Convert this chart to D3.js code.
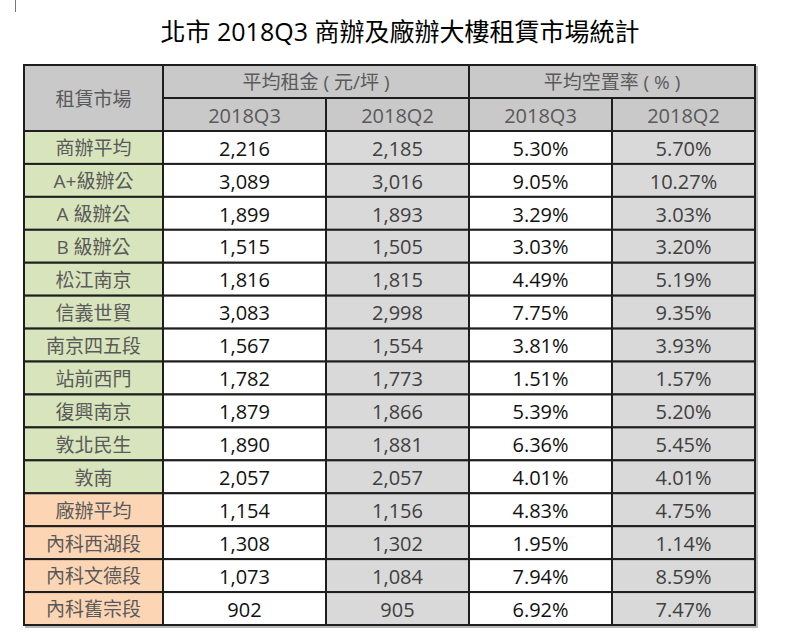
<!DOCTYPE html>
<html><head><meta charset="utf-8">
<script src="https://cdn.jsdelivr.net/npm/d3@7"></script>
<style>body{margin:0;background:#fff}svg{display:block}</style>
</head><body><svg id="c" width="800" height="642"></svg>
<script>
const title = "北市 2018Q3 商辦及廠辦大樓租賃市場統計";
const markets = ["商辦平均","A+級辦公","A 級辦公","B 級辦公","松江南京","信義世貿","南京四五段","站前西門","復興南京","敦北民生","敦南","廠辦平均","內科西湖段","內科文德段","內科舊宗段"];
const groups = ["office","office","office","office","office","office","office","office","office","office","office","factory","factory","factory","factory"];
const rentQ3 = [2216,3089,1899,1515,1816,3083,1567,1782,1879,1890,2057,1154,1308,1073,902];
const rentQ2 = [2185,3016,1893,1505,1815,2998,1554,1773,1866,1881,2057,1156,1302,1084,905];
const vacQ3 = [5.30,9.05,3.29,3.03,4.49,7.75,3.81,1.51,5.39,6.36,4.01,4.83,1.95,7.94,6.92];
const vacQ2 = [5.70,10.27,3.03,3.20,5.19,9.35,3.93,1.57,5.20,5.45,4.01,4.75,1.14,8.59,7.47];
const headerTop = ["租賃市場","平均租金 ( 元/坪 )","平均空置率 ( % )"];
const periods = ["2018Q3","2018Q2","2018Q3","2018Q2"];

const svg = d3.select("#c");
const font = "'Open Sans','Noto Sans CJK TC',sans-serif";
const colEdges = [24,163,326,469,612,755];
const x = i => colEdges[i];
const tableTop = 65, hdr1 = 98, hdr2 = 131, tableBottom = 625;
const y = d3.scaleBand().domain(markets).range([hdr2, tableBottom]);
const fillGroup = {office:"#d8e4bc", factory:"#fcd5b4"};
const fmtRent = d3.format(",");
const fmtPct = d => d3.format(".2f")(d) + "%";
const line = "#1e1e1e", sw = 2;

svg.append("line").attr("x1",15.5).attr("x2",15.5).attr("y1",0).attr("y2",12).attr("stroke","#777").attr("stroke-width",1);

svg.append("text").attr("x",400).attr("y",41).attr("text-anchor","middle")
  .attr("font-family",font).attr("font-size",25).attr("font-weight",400).attr("fill","#000").text(title);

svg.append("rect").attr("x",colEdges[0]+2).attr("y",tableTop+2).attr("width",colEdges[5]-colEdges[0]).attr("height",tableBottom-tableTop)
  .attr("fill","none").attr("stroke","#b8b8b8").attr("stroke-width",2);

const cells = [];
cells.push({x0:x(0),x1:x(1),y0:tableTop,y1:hdr2,fill:"#c9c9c9",text:headerTop[0],color:"#595959",fs:19});
cells.push({x0:x(1),x1:x(3),y0:tableTop,y1:hdr1,fill:"#c9c9c9",text:headerTop[1],color:"#595959",fs:19});
cells.push({x0:x(3),x1:x(5),y0:tableTop,y1:hdr1,fill:"#c9c9c9",text:headerTop[2],color:"#595959",fs:19});
periods.forEach((p,i)=>cells.push({x0:x(i+1),x1:x(i+2),y0:hdr1,y1:hdr2,fill:"#c9c9c9",text:p,color:"#595959",fs:20}));
markets.forEach((m,r)=>{
  const y0 = y(m), y1 = y(m)+y.bandwidth();
  cells.push({x0:x(0),x1:x(1),y0,y1,fill:fillGroup[groups[r]],text:m,color:"#595959",fs:19});
  cells.push({x0:x(1),x1:x(2),y0,y1,fill:"#ffffff",text:fmtRent(rentQ3[r]),color:"#111",fs:20});
  cells.push({x0:x(2),x1:x(3),y0,y1,fill:"#d9d9d9",text:fmtRent(rentQ2[r]),color:"#404040",fs:20});
  cells.push({x0:x(3),x1:x(4),y0,y1,fill:"#ffffff",text:fmtPct(vacQ3[r]),color:"#111",fs:20});
  cells.push({x0:x(4),x1:x(5),y0,y1,fill:"#d9d9d9",text:fmtPct(vacQ2[r]),color:"#404040",fs:20});
});

const g = svg.append("g");
g.selectAll("rect.cell").data(cells).join("rect").attr("class","cell")
  .attr("x",d=>d.x0).attr("y",d=>d.y0).attr("width",d=>d.x1-d.x0).attr("height",d=>d.y1-d.y0)
  .attr("fill",d=>d.fill).attr("stroke",line).attr("stroke-width",sw);
g.selectAll("text.cell").data(cells).join("text").attr("class","cell")
  .attr("x",d=>(d.x0+d.x1)/2).attr("y",d=>(d.y0+d.y1)/2+1).attr("dy","0.36em")
  .attr("text-anchor","middle").attr("font-family",font).attr("font-size",d=>d.fs)
  .attr("fill",d=>d.color).text(d=>d.text);
</script></body></html>
